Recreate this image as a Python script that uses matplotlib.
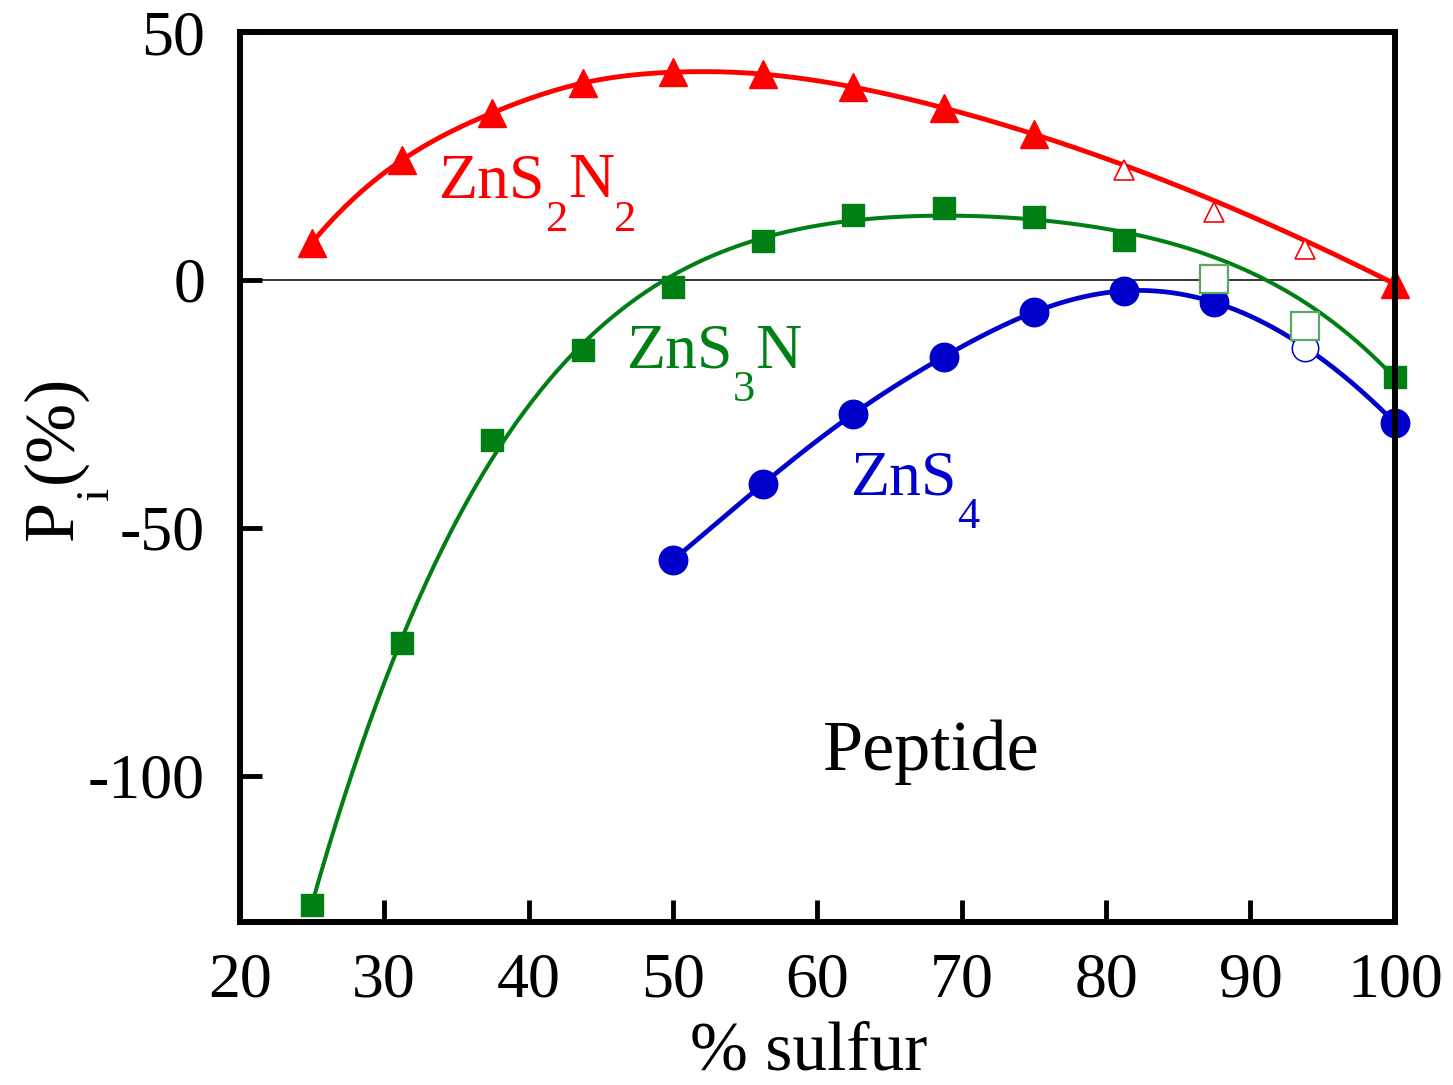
"""
Percentage P_i of zinc sites vs. percent sulfur for peptide ligands
"""
import numpy as np
import matplotlib
matplotlib.use("Agg")
import matplotlib.pyplot as plt

plt.rcParams["font.family"] = ["Liberation Serif", "DejaVu Serif"]
plt.rcParams["axes.unicode_minus"] = False

# ZnS2N2: filled points go into the curve, open ones do not
ZNS2N2_X = [25, 31.25, 37.5, 43.75, 50, 56.25, 62.5, 68.75, 75, 100]
ZNS2N2_Y = [7.5, 24.2, 33.7, 39.7, 41.9, 41.5, 38.9, 34.7, 29.4, -0.8]
ZNS2N2_OPEN_X = [81.25, 87.5, 93.75]
ZNS2N2_OPEN_Y = [22.2, 13.7, 6.3]

# ZnS3N
ZNS3N_X = [25, 31.25, 37.5, 43.75, 50, 56.25, 62.5, 68.75, 75, 81.25, 100]
ZNS3N_Y = [-126.0, -73.2, -32.3, -14.1, -1.4, 7.9, 13.1, 14.5, 12.7, 8.1, -19.6]
ZNS3N_OPEN_X = [87.5, 93.75]
ZNS3N_OPEN_Y = [0.2, -9.3]

# ZnS4
ZNS4_X = [50, 56.25, 62.5, 68.75, 75, 81.25, 87.5, 100]
ZNS4_Y = [-56.5, -41.1, -27.0, -15.5, -6.5, -2.2, -4.5, -28.8]
ZNS4_OPEN_X = [93.75]
ZNS4_OPEN_Y = [-13.8]

X_TICKS = [20, 30, 40, 50, 60, 70, 80, 90, 100]
Y_TICKS = [-100, -50, 0, 50]

RED = "#ff0000"
GREEN = "#007f14"
BLUE = "#0000cc"
OUTPUT = "out.png"


def spline(xk, yk, xs):
    """
    Not-a-knot cubic spline through (xk, yk), evaluated at xs
    """
    xk = np.asarray(xk, float)
    yk = np.asarray(yk, float)
    n = len(xk)
    h = np.diff(xk)
    mat = np.zeros((n, n))
    rhs = np.zeros(n)
    # third derivative continuous at the second and second-last knots
    mat[0, :3] = [h[1], -(h[0] + h[1]), h[0]]
    mat[-1, -3:] = [h[-1], -(h[-2] + h[-1]), h[-2]]
    for i in range(1, n - 1):
        mat[i, i - 1] = h[i - 1]
        mat[i, i] = 2 * (h[i - 1] + h[i])
        mat[i, i + 1] = h[i]
        rhs[i] = 3 * ((yk[i + 1] - yk[i]) / h[i] - (yk[i] - yk[i - 1]) / h[i - 1])
    c = np.linalg.solve(mat, rhs)
    b = (yk[1:] - yk[:-1]) / h - h * (2 * c[:-1] + c[1:]) / 3
    d = (c[1:] - c[:-1]) / (3 * h)
    idx = np.clip(np.searchsorted(xk, xs) - 1, 0, n - 2)
    dx = xs - xk[idx]
    return yk[idx] + b[idx] * dx + c[idx] * dx ** 2 + d[idx] * dx ** 3


def polyfit_curve(xk, yk, xs, deg):
    """
    Least-squares polynomial through the points, evaluated at xs
    """
    coef = np.polyfit(xk, yk, deg)
    return np.polyval(coef, xs)


def formula(ax, x, y, parts, color, size=46, subsize=32, drop=20.5):
    """
    Write a chemical formula with real subscripts, piece by piece
    :param parts: list of (text, is_subscript)
    """
    base = ax.text(x, y, parts[0][0], fontsize=size, color=color, va="baseline")
    prev = base
    for text, sub in parts[1:]:
        prev = ax.annotate(text, xy=(1, 0), xycoords=(prev, base),
                           xytext=(0, -drop if sub else 0),
                           textcoords="offset points",
                           fontsize=subsize if sub else size,
                           color=color, va="bottom", ha="left")
    return base


def main():
    fig = plt.figure(figsize=(14.53, 10.85), dpi=100)
    ax = fig.add_axes([0.165, 0.150, 0.795, 0.8205])

    ax.axhline(0, color="black", lw=1.1, zorder=1)

    # smooth curves through the filled points
    grid = np.linspace(ZNS2N2_X[0], ZNS2N2_X[-1], 400)
    ax.plot(grid, spline(ZNS2N2_X, ZNS2N2_Y, grid), color=RED, lw=3.5, zorder=2)
    grid = np.linspace(ZNS3N_X[0], ZNS3N_X[-1], 400)
    ax.plot(grid, polyfit_curve(ZNS3N_X, ZNS3N_Y, grid, 4), color=GREEN, lw=2.9,
            zorder=2)
    grid = np.linspace(ZNS4_X[0], ZNS4_X[-1], 400)
    ax.plot(grid, spline(ZNS4_X, ZNS4_Y, grid), color=BLUE, lw=3.4, zorder=2)

    # filled markers
    ax.plot(ZNS2N2_X, ZNS2N2_Y, "^", color=RED, ms=20, mew=1, ls="none",
            zorder=3, clip_on=False)
    ax.plot(ZNS3N_X, ZNS3N_Y, "s", color=GREEN, ms=16.5, mew=1, ls="none",
            zorder=3, clip_on=False)
    ax.plot(ZNS4_X, ZNS4_Y, "o", color=BLUE, ms=20.5, mew=1, ls="none",
            zorder=3, clip_on=False)

    # open markers (points left out of the curves)
    ax.plot(ZNS4_OPEN_X, ZNS4_OPEN_Y, "o", mfc="white", mec=BLUE, ms=19, mew=1.1,
            ls="none", zorder=4)
    ax.plot(ZNS3N_OPEN_X, ZNS3N_OPEN_Y, "s", mfc="white", mec="#5aa862", ms=20,
            mew=1.6, ls="none", zorder=5)
    ax.plot(ZNS2N2_OPEN_X, ZNS2N2_OPEN_Y, "^", mfc="white", mec=RED, ms=15,
            mew=1.2, ls="none", zorder=5)

    formula(ax, 33.8, 16.7, [("ZnS", False), ("2", True), ("N", False), ("2", True)], RED)
    formula(ax, 46.8, -17.7, [("ZnS", False), ("3", True), ("N", False)], GREEN)
    formula(ax, 62.3, -43.3, [("ZnS", False), ("4", True)], BLUE)
    ax.text(60.4, -98.8, "Peptide", fontsize=52, color="black", va="baseline")

    ax.set_xlim(20, 100)
    ax.set_ylim(-129.5, 50)
    ax.set_xticks(X_TICKS)
    ax.set_yticks(Y_TICKS)
    ax.set_yticklabels([str(v) for v in Y_TICKS])
    ax.tick_params(axis="both", direction="in", length=16, width=3.5,
                   labelsize=46, top=False, right=False)
    ax.tick_params(axis="x", pad=22)
    ax.tick_params(axis="y", pad=25)
    for spine in ax.spines.values():
        spine.set_linewidth(4.3)
        spine.set_zorder(6)

    # axis titles
    fig.text(809 / 1453, 1 - 1070 / 1085, "% sulfur", fontsize=50,
             ha="center", va="baseline")
    lab = fig.text(72 / 1453, 1 - 540 / 1085, "P", fontsize=52, rotation=90,
                   rotation_mode="anchor", ha="left", va="baseline")
    sub = plt.annotate("i", xy=(1, 1), xycoords=lab, xytext=(22, 0),
                       textcoords="offset points", fontsize=34, rotation=90,
                       rotation_mode="anchor", ha="left", va="bottom",
                       annotation_clip=False)
    plt.annotate("(%)", xy=(1, 1), xycoords=(lab, sub), xytext=(0, 3),
                 textcoords="offset points", fontsize=52, rotation=90,
                 rotation_mode="anchor", ha="left", va="bottom",
                 annotation_clip=False)

    print("saving plot as " + OUTPUT)
    fig.savefig(OUTPUT, dpi=100)
    plt.close(fig)


if __name__ == "__main__":
    main()
